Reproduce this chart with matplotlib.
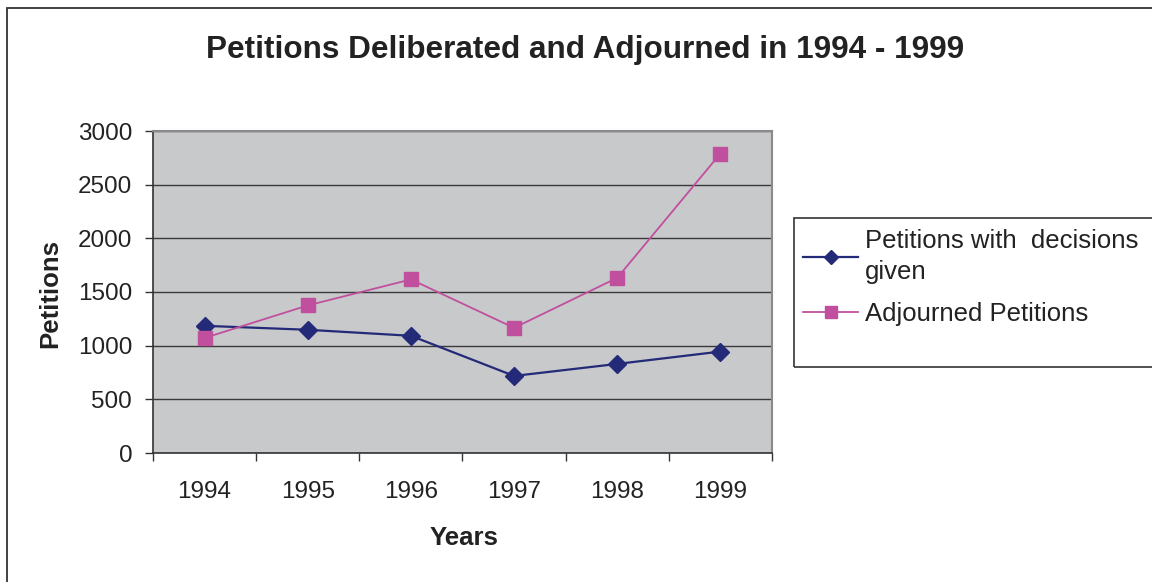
import matplotlib
matplotlib.use("Agg")
import matplotlib.pyplot as plt
from matplotlib.patches import Rectangle
from matplotlib.lines import Line2D

years = ["1994", "1995", "1996", "1997", "1998", "1999"]
decisions_given = [1185, 1148, 1092, 718, 830, 945]
adjourned = [1072, 1375, 1617, 1166, 1632, 2790]
y_ticks = [0, 500, 1000, 1500, 2000, 2500, 3000]

plt.rcParams['font.family'] = ['Liberation Sans', 'DejaVu Sans']

W, H = 1152, 582
fig = plt.figure(figsize=(W / 100, H / 100), dpi=100)

# outer chart border
fig.patches.append(Rectangle((7 / W, -0.05), 1.2, (H - 8) / H + 0.05, transform=fig.transFigure,
                             fill=False, edgecolor='#333333', linewidth=1.3, zorder=0))

L, R, T, B = 153, 772, 131, 453
ax = fig.add_axes([L / W, (H - B) / H, (R - L) / W, (B - T) / H])
ax.set_facecolor('#C8C9CB')

x = list(range(len(years)))
blue = '#232A78'
pink = '#C0509E'
ax.plot(x, decisions_given, color=blue, lw=1.6, marker='D', markersize=9,
        markerfacecolor=blue, markeredgecolor=blue, zorder=3)
ax.plot(x, adjourned, color=pink, lw=1.3, marker='s', markersize=10,
        markerfacecolor=pink, markeredgecolor=pink, zorder=3)

ax.set_xlim(-0.5, len(years) - 0.5)
ax.set_ylim(0, 3000)
ax.set_yticks(y_ticks)
ax.set_yticklabels([str(v) for v in y_ticks], fontsize=17.5, color='#222222')
ax.yaxis.grid(True, color='#3a3a3a', lw=1.0)
ax.set_axisbelow(True)

ax.set_xticks(x)
ax.set_xticklabels(years, fontsize=17.5, color='#222222')
ax.set_xticks([i - 0.5 for i in range(len(years) + 1)], minor=True)
ax.tick_params(axis='x', which='major', length=0, pad=20.5)
ax.tick_params(axis='x', which='minor', length=6, width=1, color='#333333', direction='out')
ax.tick_params(axis='y', length=6, width=1, color='#333333', pad=9)

for s in ['left', 'bottom']:
    ax.spines[s].set_color('#333333')
    ax.spines[s].set_linewidth(1.2)
for s in ['top', 'right']:
    ax.spines[s].set_color('#8a8a8a')
    ax.spines[s].set_linewidth(1.5)

fig.text(585 / W, 1 - 50 / H, "Petitions Deliberated and Adjourned in 1994 - 1999",
         ha='center', va='center', fontsize=22.7, fontweight='bold', color='#222222')
fig.text(464 / W, 1 - 538 / H, "Years", ha='center', va='center',
         fontsize=18.5, fontweight='bold', color='#222222')
fig.text(50 / W, 1 - 293 / H, "Petitions", ha='center', va='center', rotation=90,
         fontsize=18.5, fontweight='bold', color='#222222')

# legend frame
fig.patches.append(Rectangle((794 / W, 1 - 367 / H), 0.5, 149 / H, transform=fig.transFigure,
                             fill=False, edgecolor='#333333', linewidth=1.2, zorder=1))
handles = [Line2D([], [], color=blue, lw=1.6, marker='D', markersize=7),
           Line2D([], [], color=pink, lw=1.3, marker='s', markersize=8)]
leg = fig.legend(handles, ["Petitions with  decisions\ngiven", "Adjourned Petitions"],
                 loc='upper left', bbox_to_anchor=(803 / W, 1 - 229 / H),
                 frameon=False, fontsize=18.5, handlelength=2.15, handletextpad=0.27,
                 labelspacing=0.7, borderaxespad=0, borderpad=0)
for t in leg.get_texts():
    t.set_color('#222222')
    t.set_linespacing(1.35)

fig.savefig("out.png", dpi=100)
